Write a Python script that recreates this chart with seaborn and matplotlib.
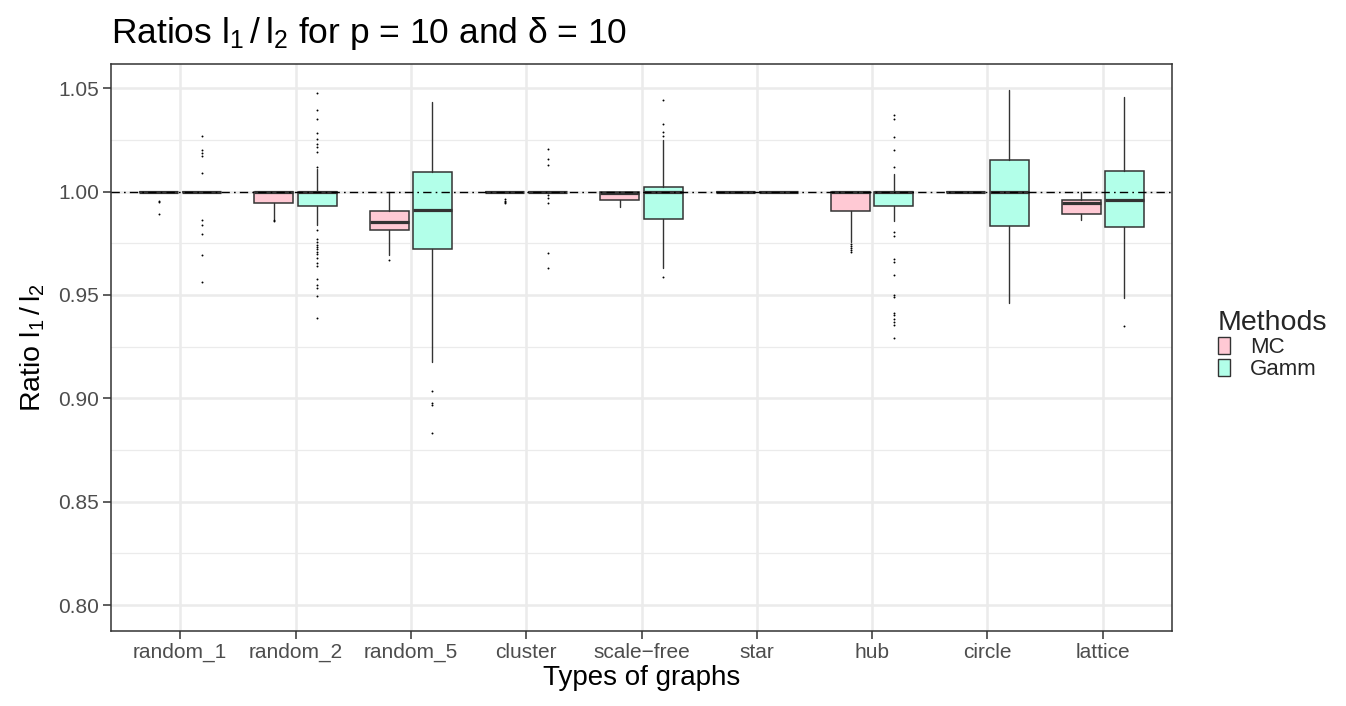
import numpy as np
import pandas as pd
import seaborn as sns
import matplotlib
matplotlib.use('Agg')
import matplotlib.pyplot as plt
from matplotlib.patches import Patch
from matplotlib.ticker import MultipleLocator

graphs = ['random_1', 'random_2', 'random_5', 'cluster', 'scale\u2212free', 'star', 'hub', 'circle', 'lattice']
methods = ['MC', 'Gamm']

# box summaries (lower whisker, q1, median, q3, upper whisker)
mc_lo  = [1.0, 0.9867, 0.9694, 1.0, 0.9926, 1.0, 0.9757, 1.0, 0.9863]
mc_q1  = [1.0, 0.9947, 0.9815, 1.0, 0.9957, 1.0, 0.9904, 1.0, 0.9892]
mc_med = [1.0, 1.0,    0.9853, 1.0, 0.9995, 1.0, 1.0,    1.0, 0.9944]
mc_q3  = [1.0, 1.0,    0.9905, 1.0, 0.9998, 1.0, 1.0,    1.0, 0.9960]
mc_hi  = [1.0, 1.0,    1.0,    1.0, 1.0,    1.0, 1.0,    1.0, 1.0]
mc_out = [[0.9955, 0.9950, 0.9894],
          [0.9862, 0.9858],
          [0.9667],
          [0.9962, 0.9955, 0.9950, 0.9945],
          [],
          [],
          [0.9748, 0.9738, 0.9728, 0.9718, 0.9710],
          [],
          []]

gamm_lo  = [1.0, 0.9836, 0.9177, 1.0, 0.9631, 1.0, 0.9860, 0.9459, 0.9486]
gamm_q1  = [1.0, 0.9929, 0.9720, 1.0, 0.9867, 1.0, 0.9928, 0.9834, 0.9831]
gamm_med = [1.0, 1.0,    0.9910, 1.0, 0.9997, 1.0, 1.0,    0.9997, 0.9957]
gamm_q3  = [1.0, 1.0,    1.0097, 1.0, 1.0023, 1.0, 1.0,    1.0153, 1.0099]
gamm_hi  = [1.0, 1.0108, 1.0434, 1.0, 1.0249, 1.0, 1.0086, 1.0492, 1.0455]
gamm_out = [[1.0269, 1.0202, 1.0185, 1.0173, 1.0090, 0.9865, 0.9836, 0.9795, 0.9692, 0.9562],
            [1.0476, 1.0394, 1.0352, 1.0282, 1.0253, 1.0229, 1.0218, 1.0192, 1.0121,
             0.9815, 0.9770, 0.9757, 0.9744, 0.9730, 0.9721, 0.9710, 0.9697, 0.9681,
             0.9657, 0.9638, 0.9576, 0.9547, 0.9536, 0.9496, 0.9389],
            [0.9038, 0.8978, 0.8969, 0.8832],
            [1.0205, 1.0157, 1.0128, 0.9983, 0.9971, 0.9947, 0.9701, 0.9631],
            [1.0442, 1.0329, 1.0289, 1.0269, 0.9589],
            [],
            [1.0369, 1.0353, 1.0266, 1.0200, 1.0119, 0.9805, 0.9786, 0.9673, 0.9660,
             0.9597, 0.9499, 0.9489, 0.9415, 0.9402, 0.9386, 0.9367, 0.9354, 0.9293],
            [],
            [0.9348]]

colors = {'MC': '#FFC9D4', 'Gamm': '#B2FFE9'}

sns.set_theme(style='whitegrid')
plt.rcParams['font.family'] = ['Liberation Sans', 'DejaVu Sans']
plt.rcParams['mathtext.default'] = 'regular'

fig = plt.figure(figsize=(13.46, 7.06), dpi=100)
ax = fig.add_axes([111 / 1346, 1 - 631 / 706, (1172 - 111) / 1346, (631 - 64) / 706])

edge = '#333333'
summaries = {'MC': (mc_lo, mc_q1, mc_med, mc_q3, mc_hi, mc_out),
             'Gamm': (gamm_lo, gamm_q1, gamm_med, gamm_q3, gamm_hi, gamm_out)}
offsets = {'MC': -0.1875, 'Gamm': 0.1875}

for m in methods:
    lo, q1, med, q3, hi, out = summaries[m]
    stats = []
    for i, g in enumerate(graphs):
        stats.append(dict(label=g, whislo=lo[i], q1=q1[i], med=med[i], q3=q3[i],
                          whishi=hi[i], fliers=out[i]))
    pos = np.arange(len(graphs)) + offsets[m]
    ax.bxp(stats, positions=pos, widths=0.3375, patch_artist=True, showcaps=False,
           manage_ticks=False,
           boxprops=dict(facecolor=colors[m], edgecolor=edge, linewidth=1.1),
           medianprops=dict(color=edge, linewidth=2.3),
           whiskerprops=dict(color=edge, linewidth=1.0),
           flierprops=dict(marker='o', markersize=1.4, markerfacecolor='black',
                           markeredgecolor='none'))

ax.axhline(1.0, color='black', linewidth=1.0, linestyle=(0, (6, 3, 1.2, 3)), zorder=5)

ax.set_xlim(-0.6, 8.6)
ax.set_ylim(0.7875, 1.0617)
ax.set_xticks(range(len(graphs)))
ax.set_xticklabels(graphs)
ax.set_yticks([0.80, 0.85, 0.90, 0.95, 1.00, 1.05])
ax.set_yticklabels(['0.80', '0.85', '0.90', '0.95', '1.00', '1.05'])
ax.yaxis.set_minor_locator(MultipleLocator(0.025))
ax.grid(True, which='major', color='#EBEBEB', linewidth=1.8)
ax.grid(True, which='minor', axis='y', color='#EBEBEB', linewidth=0.9)
ax.set_axisbelow(True)
ax.tick_params(axis='both', which='major', labelsize=15, labelcolor='#4D4D4D',
               length=5.5, width=1.1, color='#333333', pad=3, bottom=True, left=True)
ax.tick_params(axis='y', which='minor', length=0)
for s in ax.spines.values():
    s.set_color('#333333')
    s.set_linewidth(1.1)

ax.set_xlabel('Types of graphs', fontsize=20, color='black', labelpad=2)
ax.set_ylabel(r'Ratio $l_1\,/\,l_2$', fontsize=20.5, color='black', labelpad=8)
ax.set_title(r'Ratios $l_1\,/\,l_2$ for p = 10 and $\delta$ = 10', fontsize=25.5,
             loc='left', pad=15, color='black')

handles = [Patch(facecolor=colors[m], edgecolor=edge, linewidth=1.0) for m in methods]
fig.legend(handles, methods, title='Methods', loc='upper left',
           bbox_to_anchor=(1198 / 1346, 1 - 290 / 706), frameon=False,
           fontsize=16, title_fontsize=20.5, handlelength=0.55, handleheight=0.75,
           handletextpad=0.9, labelspacing=0.05, alignment='left')

fig.savefig('out.png', dpi=100)
